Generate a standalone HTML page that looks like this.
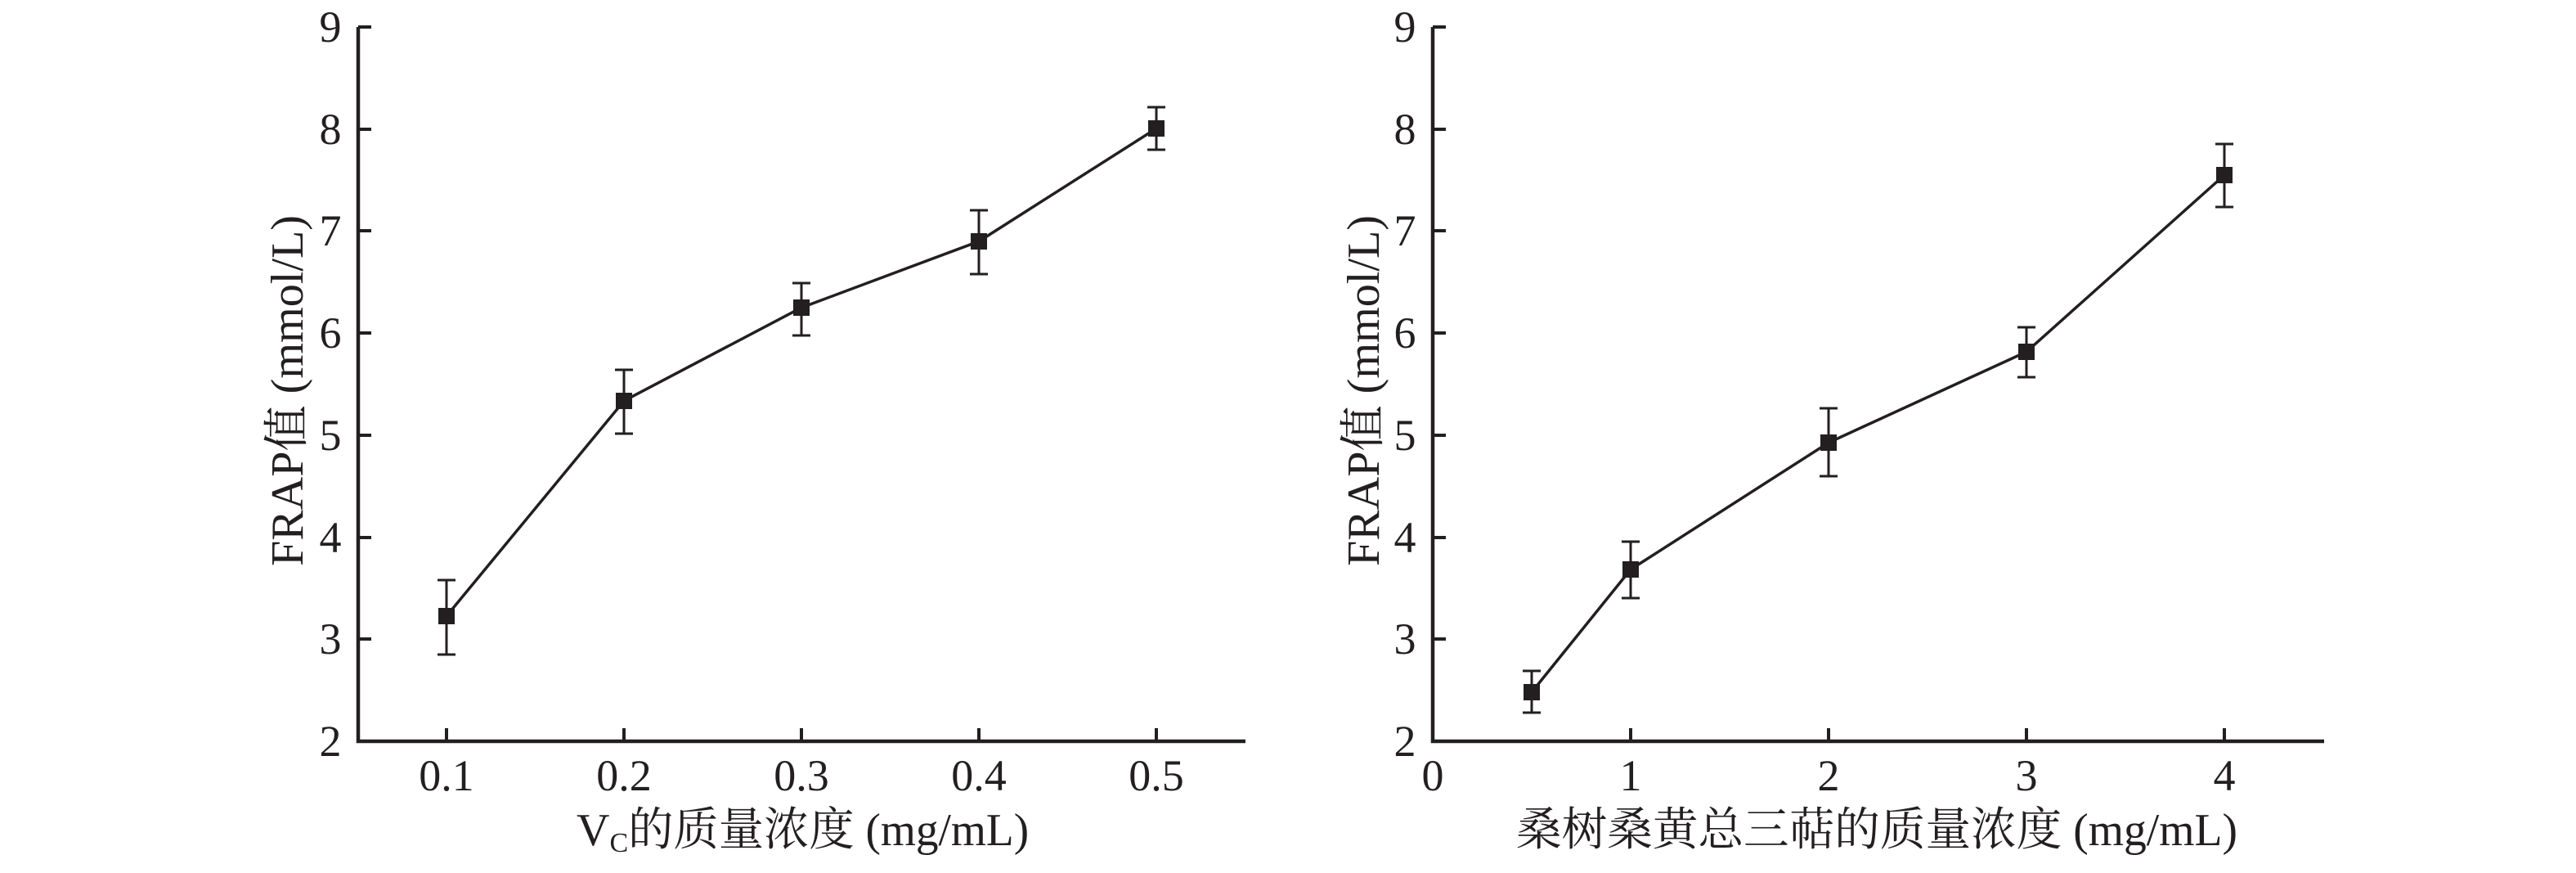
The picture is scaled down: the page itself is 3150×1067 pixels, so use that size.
<!DOCTYPE html>
<html><head><meta charset="utf-8"><style>
html,body{margin:0;padding:0;background:#fff;}
svg{display:block;}
text{font-family:"Liberation Serif","Noto Serif CJK SC",serif;fill:#231f20;}
</style></head><body>
<svg width="3150" height="1067" viewBox="0 0 3150 1067" xmlns="http://www.w3.org/2000/svg">
<g stroke="#231f20" fill="none">
<path d="M438 33 V906 H1523" stroke-width="4.5"/>
<g stroke-width="4">
<path d="M438 33 h16 M438 158 h16 M438 282 h16 M438 407 h16 M438 532 h16 M438 657 h16 M438 781 h16"/>
<path d="M546 906 v-16 M763 906 v-16 M980 906 v-16 M1197 906 v-16 M1414 906 v-16"/>
</g>
<path d="M1752 33 V906 H2842" stroke-width="4.5"/>
<g stroke-width="4">
<path d="M1752 33 h16 M1752 158 h16 M1752 282 h16 M1752 407 h16 M1752 532 h16 M1752 657 h16 M1752 781 h16"/>
<path d="M1994 906 v-16 M2236 906 v-16 M2478 906 v-16 M2720 906 v-16"/>
</g>
<polyline stroke-width="3.5" points="546,753 763,490 980,376 1197,295 1414,157"/>
<g stroke-width="3">
<path d="M546 800 V709 M535 800 h22 M535 709 h22"/>
<path d="M763 530 V452 M752 530 h22 M752 452 h22"/>
<path d="M980 410 V346 M969 410 h22 M969 346 h22"/>
<path d="M1197 335 V257 M1186 335 h22 M1186 257 h22"/>
<path d="M1414 183 V131 M1403 183 h22 M1403 131 h22"/>
</g>
<polyline stroke-width="3.5" points="1873,846 1994,696 2236,541 2478,430 2720,214"/>
<g stroke-width="3">
<path d="M1873 871 V820 M1862 871 h22 M1862 820 h22"/>
<path d="M1994 731 V662 M1983 731 h22 M1983 662 h22"/>
<path d="M2236 582 V499 M2225 582 h22 M2225 499 h22"/>
<path d="M2478 461 V400 M2467 461 h22 M2467 400 h22"/>
<path d="M2720 253 V176 M2709 253 h22 M2709 176 h22"/>
</g>
</g>
<g fill="#231f20">
<rect x="536" y="743" width="20" height="20"/><rect x="753" y="480" width="20" height="20"/><rect x="970" y="366" width="20" height="20"/><rect x="1187" y="285" width="20" height="20"/><rect x="1404" y="147" width="20" height="20"/>
<rect x="1863" y="836" width="20" height="20"/><rect x="1984" y="686" width="20" height="20"/><rect x="2226" y="531" width="20" height="20"/><rect x="2468" y="420" width="20" height="20"/><rect x="2710" y="204" width="20" height="20"/>
</g>
<g font-size="54" text-anchor="middle">
<text x="404" y="51">9</text><text x="404" y="176">8</text><text x="404" y="300">7</text><text x="404" y="425">6</text><text x="404" y="550">5</text><text x="404" y="675">4</text><text x="404" y="799">3</text><text x="404" y="924">2</text>
<text x="1718" y="51">9</text><text x="1718" y="176">8</text><text x="1718" y="300">7</text><text x="1718" y="425">6</text><text x="1718" y="550">5</text><text x="1718" y="675">4</text><text x="1718" y="799">3</text><text x="1718" y="924">2</text>
<text x="546" y="966">0.1</text><text x="763" y="966">0.2</text><text x="980" y="966">0.3</text><text x="1197" y="966">0.4</text><text x="1414" y="966">0.5</text>
<text x="1752" y="966">0</text><text x="1994" y="966">1</text><text x="2236" y="966">2</text><text x="2478" y="966">3</text><text x="2720" y="966">4</text>
</g>
<g font-size="56">
<text transform="translate(370,692) rotate(-90)" textLength="429" lengthAdjust="spacingAndGlyphs">FRAP值 (mmol/L)</text>
<text transform="translate(1686,692) rotate(-90)" textLength="429" lengthAdjust="spacingAndGlyphs">FRAP值 (mmol/L)</text>
<text x="705" y="1033">V<tspan font-size="34" dy="8">C</tspan><tspan dy="-8" textLength="490" lengthAdjust="spacingAndGlyphs">的质量浓度 (mg/mL)</tspan></text>
<text x="1854" y="1033" textLength="882" lengthAdjust="spacingAndGlyphs">桑树桑黄总三萜的质量浓度 (mg/mL)</text>
</g>
</svg>
</body></html>
